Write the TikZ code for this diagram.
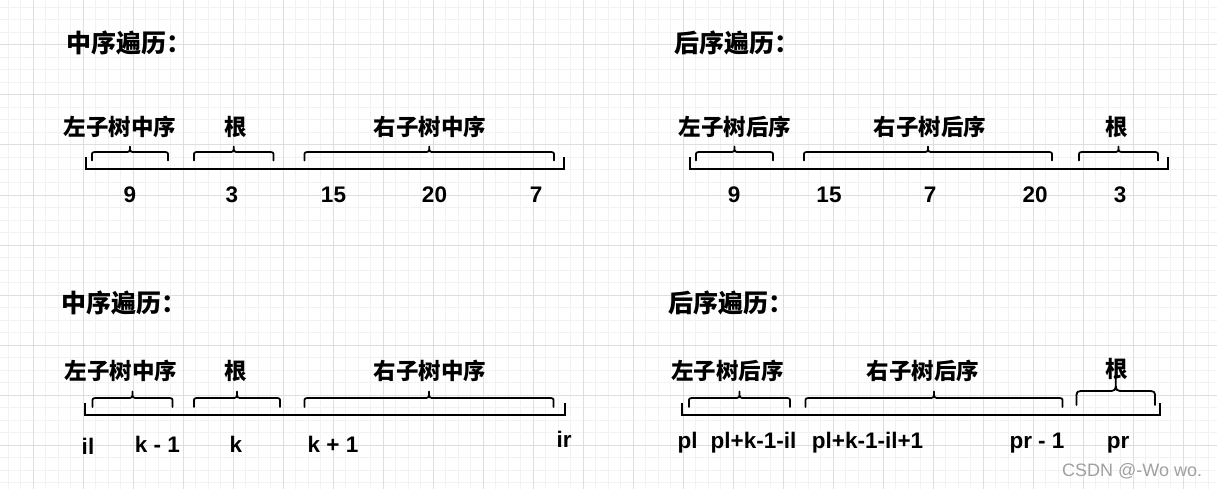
\documentclass[tikz,border=0pt]{standalone}
\usepackage{fontspec}
\setmainfont{Liberation Sans}
\newfontfamily\cjk{Noto Sans CJK SC}
\definecolor{gminor}{RGB}{242,242,242}
\definecolor{gmajor}{RGB}{222,222,222}
\definecolor{wmark}{RGB}{160,160,160}
\newcommand\mybrace[6]{% x1, x2, body y, tip y, end y, corner radius
  \pgfmathsetmacro\bxc{(#1+#2)/2}
  \pgfmathsetmacro\brr{min(#6,#3-#4)}
  \draw[brc] (#1,#5) -- (#1,#3+#6-2) .. controls (#1,#3) .. (#1+#6,#3) -- (\bxc-\brr,#3)
    .. controls (\bxc,#3) .. (\bxc,#3-\brr) -- (\bxc,#4)
    (\bxc,#3-\brr) .. controls (\bxc,#3) .. (\bxc+\brr,#3) -- (#2-#6,#3)
    .. controls (#2,#3) .. (#2,#3+#6-2) -- (#2,#5);
}
\begin{document}
\begin{tikzpicture}[x=1pt,y=-1pt,
  ttl/.style={font=\cjk\bfseries\fontsize{25}{25}\selectfont, anchor=west, inner sep=0pt},
  lbl/.style={font=\cjk\bfseries\fontsize{22.5}{22.5}\selectfont, inner sep=0pt},
  num/.style={font=\bfseries\fontsize{22.5}{22.5}\selectfont, inner sep=0pt, anchor=base},
  axisline/.style={line width=2pt, black},
  brc/.style={line width=1.8pt, black, line cap=round, line join=round},
]
\useasboundingbox (0,0) rectangle (1217,489);
\fill[white] (0,0) rectangle (1217,489);
% grid
\foreach \i in {0,...,96} \draw[gminor, line width=1pt] ({8.33+12.5*\i},0) -- ({8.33+12.5*\i},489);
\foreach \j in {0,...,38} \draw[gminor, line width=1pt] (0,{7.5+12.5*\j}) -- (1217,{7.5+12.5*\j});
\foreach \i in {0,...,23} \draw[gmajor, line width=1pt] ({33.33+50*\i},0) -- ({33.33+50*\i},489);
\foreach \j in {0,...,8} \draw[gmajor, line width=1pt] (0,{45+50*\j}) -- (1217,{45+50*\j});

% ---------- top left: inorder ----------
\node[ttl] (t1) at (66,43) {中序遍历：};
\node[lbl] (l1a) at (120,126.5) {左子树中序};
\node[lbl] (l1b) at (235.5,126.5) {根};
\node[lbl] (l1c) at (430,126.5) {右子树中序};
\mybrace{92}{168}{152}{146.5}{160.5}{6}
\mybrace{194}{273.5}{152}{146.5}{160.5}{6}
\mybrace{304.5}{554}{152}{146.5}{160.5}{6}
\draw[axisline] (85.5,157) -- (85.5,169.5) -- (563.5,169.5) -- (563.5,157);
\node[num] (n1a) at (130,202) {9};
\node[num] (n1b) at (232,202) {3};
\node[num] (n1c) at (333.5,202) {15};
\node[num] (n1d) at (434.5,202) {20};
\node[num] (n1e) at (536,202) {7};

% ---------- top right: postorder ----------
\node[ttl] (t2) at (674,43) {后序遍历：};
\node[lbl] (l2a) at (735,126.5) {左子树后序};
\node[lbl] (l2b) at (930,126.5) {右子树后序};
\node[lbl] (l2c) at (1117,126.5) {根};
\mybrace{696}{773}{152}{146.5}{160.5}{6}
\mybrace{804}{1052}{152}{146.5}{160.5}{6}
\mybrace{1079}{1158}{152}{146.5}{160.5}{6}
\draw[axisline] (689.5,157) -- (689.5,169.5) -- (1168,169.5) -- (1168,157);
\node[num] (n2a) at (734,202) {9};
\node[num] (n2b) at (829,202) {15};
\node[num] (n2c) at (930,202) {7};
\node[num] (n2d) at (1035,202) {20};
\node[num] (n2e) at (1120,202) {3};

% ---------- bottom left: inorder indices ----------
\node[ttl] (t3) at (61,302.5) {中序遍历：};
\node[lbl] (l3a) at (121,371) {左子树中序};
\node[lbl] (l3b) at (235.5,371) {根};
\node[lbl] (l3c) at (430,371) {右子树中序};
\mybrace{92.5}{172.5}{398}{391.5}{407}{6}
\mybrace{194}{280}{398}{391.5}{407}{6}
\mybrace{304.5}{553.5}{398}{391.5}{407}{6}
\draw[axisline] (85,402.5) -- (85,415) -- (564.5,415) -- (564.5,402.5);
\node[num] (n3a) at (88,454) {il};
\node[num] (n3b) at (157.5,452.5) {k - 1};
\node[num] (n3c) at (236,452.5) {k};
\node[num] (n3d) at (333,452.5) {k + 1};
\node[num] (n3e) at (564,447) {ir};

% ---------- bottom right: postorder indices ----------
\node[ttl] (t4) at (668,302.5) {后序遍历：};
\node[lbl] (l4a) at (727.5,371) {左子树后序};
\node[lbl] (l4b) at (923,371) {右子树后序};
\node[lbl] (l4c) at (1117,369) {根};
\mybrace{689}{790}{398}{391.5}{407}{6}
\mybrace{805.5}{1062.5}{398}{391.5}{407}{6}
\mybrace{1076.5}{1155}{391}{377}{405}{9}
\draw[axisline] (682,402.5) -- (682,415) -- (1159.5,415) -- (1159.5,402.5);
\node[num] (n4a) at (687.5,448) {pl};
\node[num] (n4b) at (753.5,448) {pl+k-1-il};
\node[num] (n4c) at (867.5,448) {pl+k-1-il+1};
\node[num] (n4d) at (1037,448) {pr - 1};
\node[num] (n4e) at (1118,448) {pr};

\node[anchor=base west, inner sep=0pt, font=\fontsize{18}{18}\selectfont, text=wmark] (wm) at (1062,476) {CSDN @-Wo wo.};
\end{tikzpicture}
\end{document}
